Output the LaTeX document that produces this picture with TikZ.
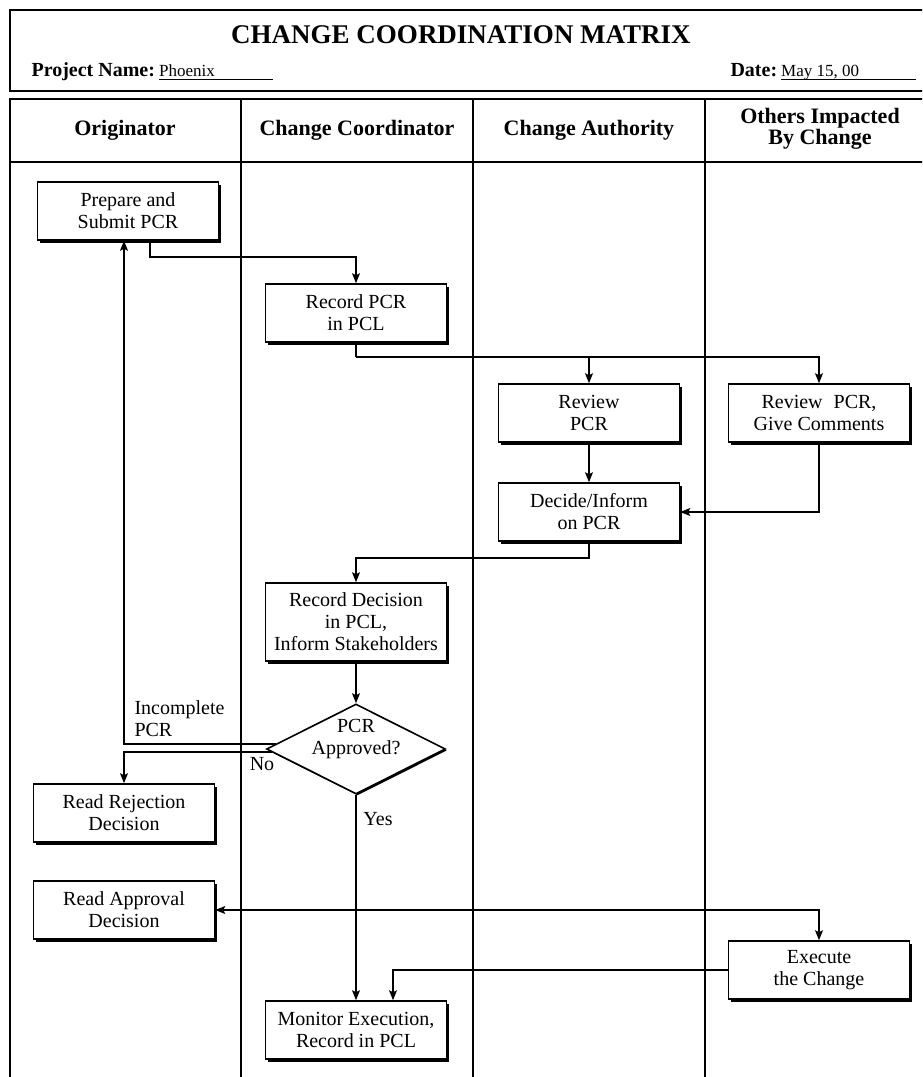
\documentclass[tikz,border=0pt]{standalone}
\usepackage{fontspec}
\setmainfont{Liberation Serif}
\usetikzlibrary{arrows.meta,shapes.geometric,shadows}

\begin{document}
\begin{tikzpicture}[x=1pt, y=-1pt,
    every node/.style={font=\fontsize{20}{22}\selectfont},
    stepbox/.style={draw, line width=1.6pt, fill=white, align=center, inner sep=0pt,
      minimum width=181pt, minimum height=58pt,
      drop shadow={shadow xshift=2.5pt, shadow yshift=-2.5pt, opacity=1, fill=black}},
    decision/.style={draw, diamond, line width=1.6pt, fill=white, aspect=2, inner sep=0pt,
      minimum width=179pt, minimum height=90pt,
      drop shadow={shadow xshift=1.5pt, shadow yshift=-1.5pt, opacity=1, fill=black}},
    lanehead/.style={font=\bfseries\fontsize{22}{21}\selectfont, align=center},
    flow/.style={line width=1.4pt, -{Stealth[length=10pt, width=8pt, inset=2pt]}},
    frameline/.style={line width=2.6pt},
    laneline/.style={line width=1.5pt}]
\useasboundingbox (0,0) rectangle (922,1077);
\clip (0,0) rectangle (922,1077);

% title block
\draw[frameline] (10,10) rectangle (935,91);
\node (title) at (461,35) {\bfseries\fontsize{27}{27}\selectfont CHANGE COORDINATION MATRIX};
\node[anchor=base west] (projlbl) at (28,76) {\bfseries Project Name:};
\node[anchor=base west, inner sep=0pt] (projname) at (159,76) {\fontsize{17}{17}\selectfont Phoenix};
\draw[line width=1pt] (159,79) -- (273,79);
\node[anchor=base west] (datelbl) at (727,76) {\bfseries Date:};
\node[anchor=base west, inner sep=0pt] (dateval) at (781,76) {\fontsize{17}{17}\selectfont May 15, 00};
\draw[line width=1pt] (781,79) -- (916,79);

% swim lanes
\draw[frameline] (10,1090) -- (10,99) -- (935,99);
\draw[frameline] (10,162) -- (935,162);
\foreach \x in {241,473,705}
  \draw[laneline] (\x,99) -- (\x,1090);
\node[lanehead] (hd1) at (125,130) {Originator};
\node[lanehead] (hd2) at (357,130) {Change Coordinator};
\node[lanehead] (hd3) at (589,130) {Change Authority};
\node[lanehead, inner ysep=1pt] (hd4) at (820,129) {Others Impacted\\By Change};

% steps
\node[stepbox] (prep) at (128,211) {Prepare and\\Submit PCR};
\node[stepbox] (rec) at (356,313) {Record PCR\\in PCL};
\node[stepbox] (revpcr) at (589,413) {Review\\PCR};
\node[stepbox] (revcom) at (819,413) {Review\hspace{0.3em} PCR,\\Give Comments};
\node[stepbox] (decide) at (589,512) {Decide/Inform\\on PCR};
\node[stepbox, minimum height=78pt] (recdec) at (356,622) {Record Decision\\in PCL,\\Inform Stakeholders};
\node[decision] (dec) at (356,749) {};
\node[align=center] (dectxt) at (356,739) {PCR\\Approved?};
\node[stepbox] (rej) at (124,813) {Read Rejection\\Decision};
\node[stepbox] (appr) at (124,910) {Read Approval\\Decision};
\node[stepbox] (exec) at (819,970) {Execute\\the Change};
\node[stepbox] (mon) at (356,1030) {Monitor Execution,\\Record in PCL};

% connectors
\draw[flow] ([xshift=22pt]prep.south) -- ++(0,16) -| (rec.north);
\draw[line width=1.4pt] (rec.south) -- ++(0,14) coordinate (fork);
\draw[flow] (fork) -| (revpcr.north);
\draw[flow] (fork) -| (revcom.north);
\draw[flow] (revpcr) -- (decide);
\draw[flow] (revcom.south) |- (decide.east);
\draw[flow] (decide.south) -- ++(0,16) -| (recdec.north);
\draw[flow] (recdec) -- (dec);
\draw[flow] ([shift={(10pt,5pt)}]dec.west) -| ([xshift=-4pt]prep.south);
\draw[flow] ([shift={(6pt,-3pt)}]dec.west) -| (rej.north);
\draw[flow] (dec.south) -- (mon.north);
\coordinate (split) at (dec.south |- appr.east);
\draw[flow] (split) -- (appr.east);
\draw[flow] (split) -| (exec.north);
\draw[flow] (exec.west) -| ([xshift=37pt]mon.north);

% labels
\node[anchor=west, align=left] (incomplete) at (131,719) {Incomplete\\PCR};
\node (no) at (262,764) {No};
\node (yes) at (378,819) {Yes};
\end{tikzpicture}
\end{document}
